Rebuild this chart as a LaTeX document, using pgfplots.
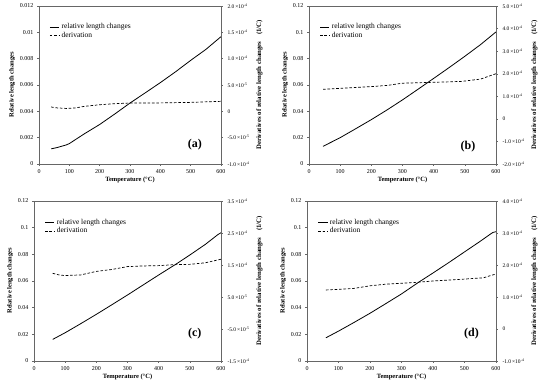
\documentclass[border=0pt]{standalone}
\usepackage{fontspec}
\setmainfont{Liberation Serif}
\usepackage{pgfplots}
\pgfplotsset{compat=1.18}
\newcommand{\sci}[2]{#1\,×10\textsuperscript{#2}}
\tikzset{
  plab/.style={font=\fontsize{12}{14}\selectfont\bfseries},
  solidl/.style={black, line width=0.8pt},
  dashl/.style={black, line width=0.7pt, dash pattern=on 2.6pt off 1.8pt},
}
\pgfplotsset{
  common/.style={
    scale only axis, anchor=south west,
    xmin=0, xmax=600,
    scaled y ticks=false, scaled x ticks=false,
    /pgf/number format/assume math mode=true,
    axis line style={gray!80!black, line width=0.5pt},
    tick style={gray!80!black, line width=0.4pt},
    tick align=outside, major tick length=2pt,
    tick label style={font=\fontsize{6}{7}\selectfont},
    label style={font=\fontsize{6.5}{7.5}\selectfont\bfseries},
  },
  leftax/.style={common,
    xtick={0,100,...,600}, xtick pos=lower, ytick pos=left,
    xlabel={Temperature (°C)}, ylabel={Relative length changes},
    xlabel style={yshift=3pt}, ylabel style={yshift=-2pt},
  },
  rightax/.style={common,
    axis y line*=right, axis x line=none,
    ylabel={Derivatives of relative length changes\quad(1/C)},
    ylabel style={font=\fontsize{6.8}{7.8}\selectfont\bfseries},
    yticklabel style={font=\fontsize{5.5}{6.5}\selectfont, xshift=1pt},
    legend style={draw=none, fill=none, at={(0.04,0.915)}, anchor=north west,
      font=\fontsize{7.5}{8.5}\selectfont, row sep=-2pt,
      /tikz/every even column/.append style={column sep=1pt}},
    legend cell align=left,
    legend image post style={xscale=0.55},
  },
}
\begin{document}
\begin{tikzpicture}
\path[use as bounding box] (0,0) rectangle (550pt,388pt);
% ---------------- (a)
\begin{axis}[leftax, at={(39pt,224pt)}, width=182pt, height=158pt,
  ymin=0, ymax=0.012, ytick={0,0.002,0.004,0.006,0.008,0.01,0.012},
  yticklabels={0,0.002,0.004,0.006,0.008,0.01,0.012}]
\addplot[solidl] coordinates {(40,0.00115)(60,0.00125)(90,0.00145)(100,0.00155)(150,0.0023)(200,0.0030)(250,0.0038)(300,0.00463)(350,0.0054)(400,0.00618)(450,0.0070)(500,0.00787)(550,0.0087)(600,0.00967)};
\node[plab] at (rel axis cs:0.857,0.12) {(a)};
\end{axis}
\begin{axis}[rightax, at={(39pt,224pt)}, width=182pt, height=158pt,
  ymin=-1e-4, ymax=2e-4, ytick={-1e-4,-5e-5,0,5e-5,1e-4,1.5e-4,2e-4},
  yticklabels={\sci{-1.0}{-4},\sci{-5.0}{-5},0,\sci{5.0}{-5},\sci{1.0}{-4},\sci{1.5}{-4},\sci{2.0}{-4}}]
\addlegendimage{solidl}\addlegendentry{relative length changes}
\addplot[dashl] coordinates {(40,8.2e-6)(60,6.5e-6)(90,5.5e-6)(120,6.5e-6)(150,9.5e-6)(200,12.5e-6)(250,14.5e-6)(300,15.8e-6)(400,16e-6)(500,17e-6)(600,19e-6)};
\addlegendentry{derivation}
\end{axis}
% ---------------- (b)
\begin{axis}[leftax, at={(309pt,224pt)}, width=187pt, height=158pt,
  ymin=0, ymax=0.12, ytick={0,0.02,0.04,0.06,0.08,0.1,0.12},
  yticklabels={0,0.02,0.04,0.06,0.08,0.1,0.12}]
\addplot[solidl] coordinates {(45,0.0134)(100,0.0200)(150,0.0268)(200,0.0337)(250,0.0410)(300,0.0487)(350,0.0568)(400,0.0650)(450,0.0733)(500,0.0818)(550,0.0906)(600,0.1003)};
\node[plab] at (rel axis cs:0.85,0.11) {(b)};
\end{axis}
\begin{axis}[rightax, at={(309pt,224pt)}, width=187pt, height=158pt,
  ymin=-2e-4, ymax=5e-4, ytick={-2e-4,-1e-4,0,1e-4,2e-4,3e-4,4e-4,5e-4},
  yticklabels={\sci{-2.0}{-4},\sci{-1.0}{-4},0,\sci{1.0}{-4},\sci{2.0}{-4},\sci{3.0}{-4},\sci{4.0}{-4},\sci{5.0}{-4}}]
\addlegendimage{solidl}\addlegendentry{relative length changes}
\addplot[dashl] coordinates {(45,1.31e-4)(100,1.35e-4)(150,1.39e-4)(200,1.43e-4)(250,1.48e-4)(300,1.58e-4)(350,1.60e-4)(400,1.62e-4)(450,1.64e-4)(490,1.66e-4)(550,1.76e-4)(600,2.0e-4)};
\addlegendentry{derivation}
\end{axis}
% ---------------- (c)
\begin{axis}[leftax, at={(34pt,27pt)}, width=187pt, height=160pt,
  ymin=0, ymax=0.12, ytick={0,0.02,0.04,0.06,0.08,0.1,0.12},
  yticklabels={0,0.02,0.04,0.06,0.08,0.1,0.12}]
\addplot[solidl] coordinates {(60,0.0162)(100,0.0212)(150,0.0280)(200,0.0350)(250,0.0422)(300,0.0495)(350,0.0570)(400,0.0645)(456,0.0727)(500,0.0795)(550,0.0875)(590,0.0948)(600,0.0962)};
\node[plab] at (rel axis cs:0.86,0.17) {(c)};
\end{axis}
\begin{axis}[rightax, at={(34pt,27pt)}, width=187pt, height=160pt,
  ymin=-1.5e-4, ymax=3.5e-4, ytick={-1.5e-4,-5e-5,5e-5,1.5e-4,2.5e-4,3.5e-4},
  yticklabels={\sci{-1.5}{-4},\sci{-5.0}{-5},\sci{5.0}{-5},\sci{1.5}{-4},\sci{2.5}{-4},\sci{3.5}{-4}}]
\addlegendimage{solidl}\addlegendentry{relative length changes}
\addplot[dashl] coordinates {(60,1.24e-4)(80,1.19e-4)(100,1.17e-4)(150,1.19e-4)(200,1.30e-4)(250,1.36e-4)(300,1.45e-4)(350,1.47e-4)(400,1.48e-4)(450,1.51e-4)(500,1.52e-4)(550,1.57e-4)(600,1.68e-4)};
\addlegendentry{derivation}
\end{axis}
% ---------------- (d)
\begin{axis}[leftax, at={(307pt,27pt)}, width=189pt, height=160pt,
  ymin=0, ymax=0.12, ytick={0,0.02,0.04,0.06,0.08,0.1,0.12},
  yticklabels={0,0.02,0.04,0.06,0.08,0.1,0.12}]
\addplot[solidl] coordinates {(60,0.0174)(100,0.0224)(150,0.0290)(200,0.0358)(250,0.0430)(300,0.0503)(354,0.0590)(400,0.0660)(450,0.0738)(500,0.0818)(550,0.0898)(580,0.0948)(590,0.0964)(600,0.0970)};
\node[plab] at (rel axis cs:0.87,0.17) {(d)};
\end{axis}
\begin{axis}[rightax, at={(307pt,27pt)}, width=189pt, height=160pt,
  ymin=-1e-4, ymax=4e-4, ytick={-1e-4,0,1e-4,2e-4,3e-4,4e-4},
  yticklabels={\sci{-1.0}{-4},0,\sci{1.0}{-4},\sci{2.0}{-4},\sci{3.0}{-4},\sci{4.0}{-4}}]
\addlegendimage{solidl}\addlegendentry{relative length changes}
\addplot[dashl] coordinates {(60,1.22e-4)(100,1.24e-4)(150,1.27e-4)(200,1.35e-4)(250,1.40e-4)(300,1.43e-4)(350,1.46e-4)(400,1.50e-4)(450,1.53e-4)(500,1.56e-4)(560,1.60e-4)(600,1.72e-4)};
\addlegendentry{derivation}
\end{axis}
\end{tikzpicture}
\end{document}
